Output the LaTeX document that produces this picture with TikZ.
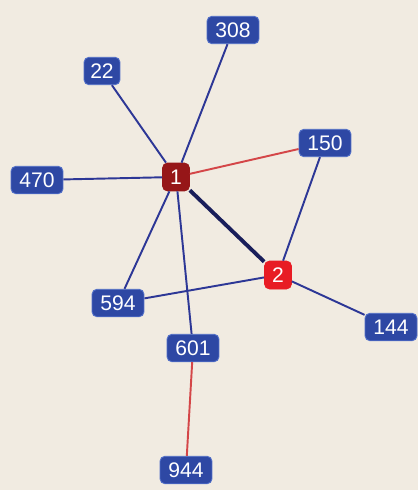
\documentclass[tikz,border=0pt]{standalone}
\usepackage{fontspec}
\setmainfont{Liberation Sans}
\usetikzlibrary{positioning}
\definecolor{bgbeige}{RGB}{241,235,225}
\definecolor{nodeblue}{RGB}{46,72,164}
\definecolor{nodeedge}{RGB}{80,110,200}
\definecolor{hubdark}{RGB}{150,22,24}
\definecolor{hubred}{RGB}{232,28,36}
\definecolor{linkblue}{RGB}{45,55,150}
\definecolor{linkred}{RGB}{212,70,72}
\definecolor{linknavy}{RGB}{25,30,90}

\begin{document}
\begin{tikzpicture}[x=0.02cm, y=-0.02cm,
  every node/.style={font=\fontsize{12}{14}\selectfont, text=white},
  idbox/.style={draw=nodeedge, line width=0.5pt, fill=nodeblue, rounded corners=0.1cm,
    minimum width=1.04cm, minimum height=0.55cm, inner xsep=2pt, inner ysep=0pt},
  hub/.style={draw=#1, fill=#1, rounded corners=0.1cm,
    minimum width=0.54cm, minimum height=0.56cm, inner sep=0pt},
  link/.style={draw=linkblue, line width=1.1pt},
  redlink/.style={draw=linkred, line width=1.1pt}]
  % background and margins
  \fill[bgbeige] (0,0) rectangle (418,490);
  \useasboundingbox (0,0) rectangle (418,490);

  % outer nodes
  \node[idbox] (n308) at (233,30)  {308};
  \node[idbox, minimum width=0.72cm] (n22) at (102,71) {22};
  \node[idbox] (n150) at (325,143) {150};
  \node[idbox] (n470) at (37,180)  {470};
  \node[idbox] (n594) at (118,303) {594};
  \node[idbox] (n144) at (391,327) {144};
  \node[idbox] (n601) at (193,348) {601};
  \node[idbox] (n944) at (186,470) {944};

  % hubs
  \node[hub=hubdark] (h1) at (176,177) {1};
  \node[hub=hubred]  (h2) at (278,275) {2};

  % links from hub 1
  \draw[link] (h1) -- (n308);
  \draw[link] (h1) -- (n22);
  \draw[link] (h1) -- (n470);
  \draw[link] (h1) -- (n594);
  \draw[link] (h1) -- (n601);
  \draw[redlink] (h1) -- (n150);
  \draw[draw=linknavy, line width=2.2pt] (h1) -- (h2);

  % links from hub 2
  \draw[link] (h2) -- (n150);
  \draw[link] (h2) -- (n594);
  \draw[link] (h2) -- (n144);

  \draw[redlink] (n601) -- (n944);
\end{tikzpicture}
\end{document}
